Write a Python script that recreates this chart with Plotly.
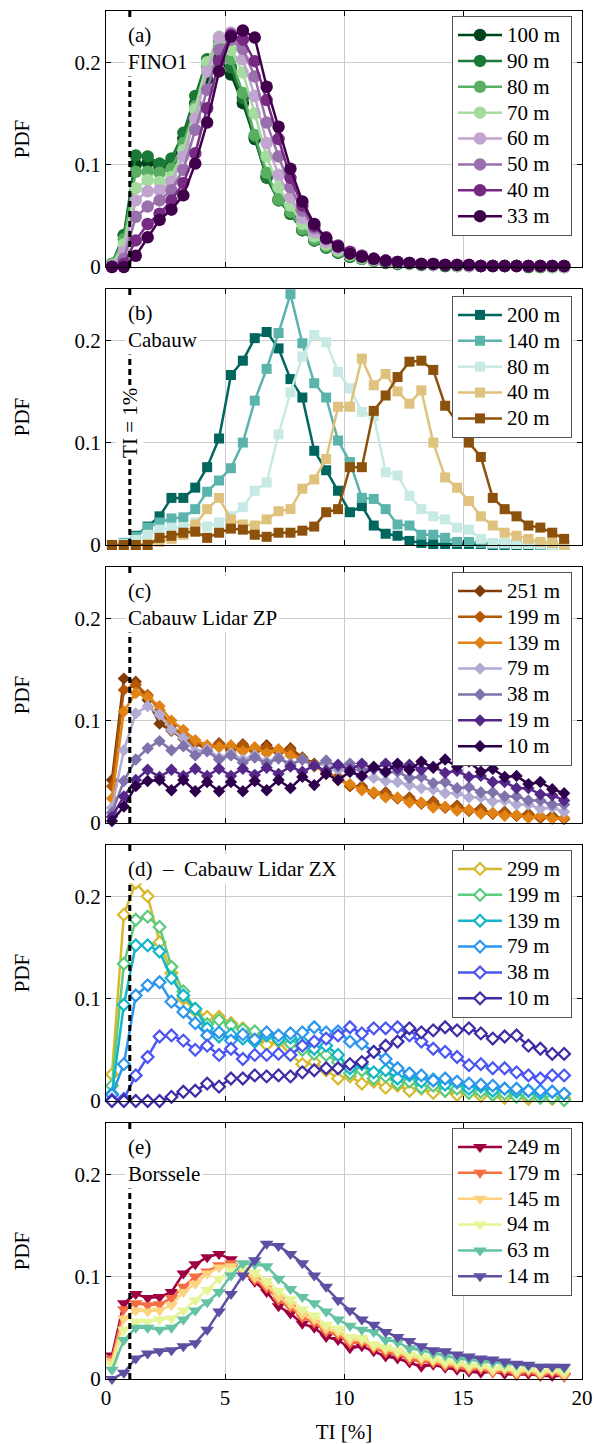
import plotly.graph_objects as go
from plotly.subplots import make_subplots

# TI bin centres [%]
TI_BINS = [0.25, 0.75, 1.25, 1.75, 2.25, 2.75, 3.25, 3.75, 4.25, 4.75,
           5.25, 5.75, 6.25, 6.75, 7.25, 7.75, 8.25, 8.75, 9.25, 9.75,
           10.25, 10.75, 11.25, 11.75, 12.25, 12.75, 13.25, 13.75, 14.25, 14.75,
           15.25, 15.75, 16.25, 16.75, 17.25, 17.75, 18.25, 18.75, 19.25]

# (a) FINO1
FINO1_HEIGHTS = ["100 m", "90 m", "80 m", "70 m", "60 m", "50 m", "40 m", "33 m"]
fino_100 = [0.003, 0.031, 0.100, 0.102, 0.097, 0.100, 0.125, 0.160, 0.183, 0.204, 0.188, 0.160, 0.125, 0.088, 0.066, 0.052, 0.036, 0.026, 0.019, 0.014,
            0.010, 0.008, 0.006, 0.004, 0.003, 0.003, 0.002, 0.002, 0.001, 0.001, 0.001, 0.001, 0.001, 0.001, 0.001, 0.000, 0.000, 0.000, 0.000]
fino_90 = [0.003, 0.031, 0.109, 0.108, 0.101, 0.106, 0.131, 0.167, 0.203, 0.215, 0.195, 0.165, 0.127, 0.087, 0.065, 0.052, 0.036, 0.026, 0.019, 0.014,
           0.010, 0.008, 0.006, 0.004, 0.003, 0.003, 0.002, 0.002, 0.001, 0.001, 0.001, 0.001, 0.001, 0.001, 0.001, 0.000, 0.000, 0.000, 0.000]
fino_80 = [0.003, 0.027, 0.093, 0.093, 0.092, 0.096, 0.121, 0.157, 0.196, 0.221, 0.203, 0.170, 0.129, 0.092, 0.066, 0.054, 0.037, 0.027, 0.020, 0.015,
           0.011, 0.008, 0.006, 0.005, 0.004, 0.003, 0.002, 0.002, 0.002, 0.001, 0.001, 0.001, 0.001, 0.001, 0.001, 0.001, 0.000, 0.000, 0.000]
fino_70 = [0.002, 0.022, 0.077, 0.085, 0.083, 0.088, 0.114, 0.154, 0.200, 0.225, 0.212, 0.190, 0.150, 0.108, 0.078, 0.060, 0.042, 0.030, 0.022, 0.016,
           0.012, 0.009, 0.007, 0.005, 0.004, 0.003, 0.003, 0.002, 0.002, 0.001, 0.001, 0.001, 0.001, 0.001, 0.001, 0.001, 0.001, 0.000, 0.000]
fino_60 = [0.001, 0.015, 0.065, 0.074, 0.075, 0.083, 0.108, 0.145, 0.191, 0.224, 0.229, 0.203, 0.167, 0.121, 0.090, 0.068, 0.048, 0.034, 0.024, 0.018,
           0.013, 0.010, 0.007, 0.006, 0.004, 0.004, 0.003, 0.002, 0.002, 0.002, 0.001, 0.001, 0.001, 0.001, 0.001, 0.001, 0.001, 0.001, 0.000]
fino_50 = [0.001, 0.008, 0.049, 0.059, 0.065, 0.075, 0.095, 0.134, 0.173, 0.212, 0.222, 0.213, 0.186, 0.141, 0.108, 0.078, 0.055, 0.038, 0.027, 0.020,
           0.014, 0.011, 0.008, 0.006, 0.005, 0.004, 0.003, 0.003, 0.002, 0.002, 0.002, 0.001, 0.001, 0.001, 0.001, 0.001, 0.001, 0.001, 0.001]
fino_40 = [0.000, 0.003, 0.026, 0.042, 0.052, 0.065, 0.082, 0.111, 0.155, 0.201, 0.227, 0.222, 0.201, 0.163, 0.125, 0.087, 0.060, 0.040, 0.029, 0.021,
           0.015, 0.011, 0.008, 0.006, 0.005, 0.004, 0.003, 0.003, 0.002, 0.002, 0.002, 0.001, 0.001, 0.001, 0.001, 0.001, 0.001, 0.001, 0.001]
fino_33 = [0.000, 0.000, 0.011, 0.029, 0.046, 0.056, 0.070, 0.101, 0.141, 0.191, 0.225, 0.231, 0.224, 0.176, 0.137, 0.096, 0.064, 0.042, 0.028, 0.020,
           0.013, 0.010, 0.008, 0.006, 0.005, 0.004, 0.003, 0.003, 0.002, 0.002, 0.002, 0.001, 0.001, 0.001, 0.001, 0.001, 0.001, 0.001, 0.001]

# (b) Cabauw
CABAUW_HEIGHTS = ["200 m", "140 m", "80 m", "40 m", "20 m"]
cab_200 = [0.000, 0.002, 0.009, 0.018, 0.028, 0.046, 0.046, 0.056, 0.076, 0.104, 0.166, 0.180, 0.202, 0.208, 0.192, 0.162, 0.144, 0.092, 0.073, 0.053,
           0.032, 0.038, 0.019, 0.011, 0.009, 0.004, 0.002, 0.001, 0.001, 0.001, 0.001, 0.001, 0.000, 0.000, 0.000, 0.000, 0.000, 0.000, 0.000]
cab_140 = [0.000, 0.002, 0.008, 0.017, 0.022, 0.026, 0.027, 0.035, 0.052, 0.063, 0.075, 0.100, 0.141, 0.172, 0.207, 0.245, 0.197, 0.158, 0.144, 0.102,
           0.081, 0.046, 0.045, 0.035, 0.020, 0.019, 0.010, 0.010, 0.007, 0.003, 0.003, 0.002, 0.001, 0.001, 0.001, 0.001, 0.000, 0.000, 0.000]
cab_80 = [0.000, 0.001, 0.005, 0.010, 0.015, 0.017, 0.017, 0.022, 0.018, 0.022, 0.028, 0.037, 0.053, 0.061, 0.108, 0.149, 0.184, 0.205, 0.198, 0.169,
          0.153, 0.130, 0.126, 0.071, 0.068, 0.048, 0.035, 0.028, 0.025, 0.017, 0.015, 0.006, 0.002, 0.002, 0.001, 0.001, 0.001, 0.000, 0.000]
cab_40 = [0.000, 0.000, 0.000, 0.001, 0.003, 0.006, 0.010, 0.020, 0.035, 0.046, 0.025, 0.020, 0.019, 0.025, 0.033, 0.035, 0.055, 0.064, 0.084, 0.135,
          0.135, 0.182, 0.156, 0.167, 0.150, 0.138, 0.151, 0.100, 0.066, 0.056, 0.043, 0.028, 0.019, 0.012, 0.009, 0.006, 0.003, 0.002, 0.000]
cab_20 = [0.000, 0.000, 0.000, 0.000, 0.007, 0.009, 0.012, 0.013, 0.007, 0.012, 0.016, 0.015, 0.010, 0.008, 0.012, 0.012, 0.014, 0.018, 0.032, 0.035,
          0.076, 0.076, 0.131, 0.146, 0.164, 0.179, 0.180, 0.171, 0.136, 0.120, 0.100, 0.086, 0.046, 0.035, 0.028, 0.019, 0.017, 0.012, 0.006]

# (c) Cabauw Lidar ZP
ZP_HEIGHTS = ["251 m", "199 m", "139 m", "79 m", "38 m", "19 m", "10 m"]
zp_251 = [0.042, 0.141, 0.138, 0.120, 0.097, 0.090, 0.082, 0.078, 0.072, 0.078, 0.072, 0.077, 0.071, 0.076, 0.070, 0.073, 0.064, 0.058, 0.048, 0.045,
          0.036, 0.036, 0.029, 0.030, 0.024, 0.025, 0.019, 0.021, 0.015, 0.017, 0.012, 0.014, 0.009, 0.011, 0.007, 0.009, 0.005, 0.007, 0.004]
zp_199 = [0.036, 0.130, 0.135, 0.125, 0.110, 0.095, 0.085, 0.079, 0.074, 0.077, 0.071, 0.076, 0.070, 0.074, 0.069, 0.071, 0.063, 0.057, 0.048, 0.044,
          0.036, 0.035, 0.029, 0.029, 0.024, 0.024, 0.019, 0.020, 0.015, 0.016, 0.012, 0.013, 0.009, 0.010, 0.007, 0.008, 0.005, 0.006, 0.004]
zp_139 = [0.024, 0.109, 0.127, 0.123, 0.114, 0.100, 0.091, 0.081, 0.076, 0.074, 0.076, 0.070, 0.074, 0.068, 0.072, 0.066, 0.062, 0.055, 0.050, 0.042,
          0.038, 0.032, 0.030, 0.025, 0.025, 0.020, 0.020, 0.015, 0.016, 0.012, 0.013, 0.009, 0.010, 0.007, 0.008, 0.005, 0.007, 0.004, 0.005]
zp_79 = [0.015, 0.071, 0.107, 0.114, 0.106, 0.091, 0.083, 0.070, 0.072, 0.064, 0.068, 0.062, 0.066, 0.060, 0.064, 0.058, 0.062, 0.056, 0.058, 0.052,
         0.050, 0.045, 0.044, 0.041, 0.040, 0.037, 0.034, 0.033, 0.029, 0.029, 0.025, 0.025, 0.021, 0.022, 0.018, 0.018, 0.014, 0.015, 0.011]
zp_38 = [0.010, 0.041, 0.062, 0.073, 0.080, 0.071, 0.075, 0.066, 0.070, 0.062, 0.066, 0.059, 0.064, 0.058, 0.063, 0.057, 0.062, 0.056, 0.061, 0.055,
         0.058, 0.052, 0.054, 0.049, 0.050, 0.044, 0.045, 0.039, 0.040, 0.034, 0.035, 0.030, 0.030, 0.026, 0.026, 0.022, 0.022, 0.018, 0.018]
zp_19 = [0.006, 0.026, 0.042, 0.052, 0.045, 0.052, 0.046, 0.053, 0.046, 0.053, 0.046, 0.053, 0.047, 0.054, 0.048, 0.055, 0.050, 0.056, 0.051, 0.057,
         0.052, 0.058, 0.053, 0.058, 0.053, 0.057, 0.052, 0.055, 0.049, 0.051, 0.045, 0.046, 0.040, 0.040, 0.034, 0.034, 0.028, 0.027, 0.022]
zp_10 = [0.002, 0.016, 0.036, 0.041, 0.042, 0.032, 0.042, 0.031, 0.040, 0.031, 0.040, 0.031, 0.041, 0.032, 0.042, 0.034, 0.045, 0.037, 0.048, 0.042,
         0.050, 0.046, 0.055, 0.050, 0.058, 0.052, 0.060, 0.054, 0.062, 0.055, 0.060, 0.050, 0.053, 0.045, 0.046, 0.038, 0.040, 0.033, 0.029]

# (d) Cabauw Lidar ZX
ZX_HEIGHTS = ["299 m", "199 m", "139 m", "79 m", "38 m", "10 m"]
zx_299 = [0.026, 0.182, 0.213, 0.200, 0.155, 0.125, 0.100, 0.088, 0.082, 0.082, 0.076, 0.071, 0.066, 0.055, 0.058, 0.045, 0.036, 0.038, 0.030, 0.022,
          0.024, 0.017, 0.019, 0.013, 0.015, 0.010, 0.012, 0.008, 0.010, 0.006, 0.008, 0.005, 0.006, 0.003, 0.005, 0.002, 0.004, 0.002, 0.003]
zx_199 = [0.015, 0.134, 0.177, 0.180, 0.170, 0.131, 0.107, 0.090, 0.075, 0.079, 0.074, 0.070, 0.068, 0.064, 0.060, 0.056, 0.050, 0.046, 0.045, 0.038,
          0.027, 0.030, 0.022, 0.024, 0.017, 0.019, 0.013, 0.015, 0.010, 0.012, 0.008, 0.009, 0.006, 0.007, 0.004, 0.005, 0.003, 0.003, 0.001]
zx_139 = [0.007, 0.094, 0.152, 0.152, 0.146, 0.120, 0.103, 0.090, 0.071, 0.063, 0.065, 0.061, 0.058, 0.064, 0.060, 0.062, 0.058, 0.051, 0.054, 0.045,
          0.032, 0.036, 0.028, 0.030, 0.022, 0.025, 0.019, 0.021, 0.016, 0.018, 0.012, 0.014, 0.010, 0.012, 0.009, 0.010, 0.007, 0.009, 0.007]
zx_79 = [0.006, 0.036, 0.103, 0.113, 0.116, 0.097, 0.087, 0.076, 0.064, 0.067, 0.059, 0.065, 0.060, 0.067, 0.064, 0.066, 0.067, 0.072, 0.067, 0.068,
         0.058, 0.056, 0.048, 0.041, 0.032, 0.027, 0.025, 0.020, 0.022, 0.019, 0.017, 0.016, 0.015, 0.012, 0.012, 0.010, 0.010, 0.009, 0.007]
zx_38 = [0.001, 0.002, 0.025, 0.043, 0.063, 0.064, 0.059, 0.050, 0.054, 0.045, 0.051, 0.041, 0.045, 0.045, 0.046, 0.045, 0.054, 0.058, 0.061, 0.064,
         0.072, 0.066, 0.071, 0.071, 0.072, 0.064, 0.058, 0.051, 0.048, 0.043, 0.035, 0.036, 0.032, 0.032, 0.028, 0.025, 0.022, 0.025, 0.025]
zx_10 = [0.000, 0.000, 0.000, 0.000, 0.000, 0.004, 0.009, 0.010, 0.017, 0.014, 0.022, 0.022, 0.025, 0.024, 0.025, 0.024, 0.028, 0.030, 0.032, 0.032,
         0.036, 0.038, 0.048, 0.054, 0.058, 0.071, 0.067, 0.069, 0.072, 0.069, 0.071, 0.066, 0.061, 0.063, 0.064, 0.054, 0.051, 0.046, 0.046]

# (e) Borssele
BORSSELE_HEIGHTS = ["249 m", "179 m", "145 m", "94 m", "63 m", "14 m"]
bo_249 = [0.023, 0.074, 0.083, 0.079, 0.080, 0.085, 0.103, 0.112, 0.119, 0.122, 0.117, 0.105, 0.095, 0.085, 0.071, 0.064, 0.054, 0.050, 0.041, 0.038,
          0.030, 0.032, 0.027, 0.022, 0.020, 0.016, 0.012, 0.014, 0.011, 0.009, 0.007, 0.006, 0.007, 0.005, 0.004, 0.005, 0.003, 0.003, 0.003]
bo_179 = [0.020, 0.068, 0.074, 0.072, 0.073, 0.079, 0.090, 0.100, 0.105, 0.111, 0.113, 0.106, 0.097, 0.089, 0.077, 0.070, 0.060, 0.055, 0.046, 0.043,
          0.035, 0.036, 0.030, 0.026, 0.024, 0.019, 0.017, 0.016, 0.013, 0.012, 0.009, 0.010, 0.006, 0.008, 0.004, 0.007, 0.003, 0.006, 0.002]
bo_145 = [0.017, 0.059, 0.067, 0.066, 0.067, 0.072, 0.085, 0.093, 0.103, 0.109, 0.110, 0.106, 0.099, 0.092, 0.080, 0.073, 0.063, 0.058, 0.049, 0.046,
          0.038, 0.038, 0.032, 0.029, 0.026, 0.022, 0.020, 0.018, 0.015, 0.014, 0.011, 0.012, 0.008, 0.010, 0.006, 0.009, 0.005, 0.008, 0.004]
bo_94 = [0.014, 0.048, 0.056, 0.056, 0.058, 0.059, 0.067, 0.077, 0.087, 0.098, 0.106, 0.109, 0.104, 0.096, 0.086, 0.078, 0.068, 0.062, 0.053, 0.049,
         0.041, 0.040, 0.034, 0.031, 0.028, 0.024, 0.022, 0.020, 0.017, 0.016, 0.013, 0.013, 0.010, 0.011, 0.008, 0.010, 0.007, 0.009, 0.007]
bo_63 = [0.009, 0.038, 0.050, 0.050, 0.048, 0.050, 0.058, 0.067, 0.075, 0.085, 0.101, 0.113, 0.112, 0.110, 0.098, 0.088, 0.080, 0.074, 0.066, 0.058,
         0.052, 0.048, 0.046, 0.038, 0.036, 0.030, 0.028, 0.025, 0.023, 0.020, 0.019, 0.017, 0.016, 0.015, 0.014, 0.013, 0.012, 0.012, 0.011]
bo_14 = [0.000, 0.006, 0.020, 0.025, 0.027, 0.028, 0.032, 0.035, 0.048, 0.066, 0.083, 0.101, 0.116, 0.132, 0.130, 0.122, 0.113, 0.101, 0.090, 0.077,
         0.067, 0.058, 0.053, 0.046, 0.041, 0.037, 0.032, 0.028, 0.027, 0.024, 0.022, 0.020, 0.019, 0.017, 0.015, 0.014, 0.012, 0.012, 0.012]

FONT = "Liberation Serif, Times New Roman, Times, serif"

panels = [
    dict(label="(a)<br>FINO1", names=FINO1_HEIGHTS,
         series=[fino_100, fino_90, fino_80, fino_70, fino_60, fino_50, fino_40, fino_33],
         colors=["#00441b", "#1b7837", "#5aae61", "#a6dba0", "#c2a5cf", "#9970ab", "#762a83", "#40004b"],
         symbol="circle", size=12.5, hollow=False),
    dict(label="(b)<br>Cabauw", names=CABAUW_HEIGHTS,
         series=[cab_200, cab_140, cab_80, cab_40, cab_20],
         colors=["#01665e", "#5ab4ac", "#c7eae5", "#dfc27d", "#8c510a"],
         symbol="square", size=10, hollow=False),
    dict(label="(c)<br>Cabauw Lidar ZP", names=ZP_HEIGHTS,
         series=[zp_251, zp_199, zp_139, zp_79, zp_38, zp_19, zp_10],
         colors=["#7f3b08", "#b35806", "#e08214", "#b2abd2", "#8073ac", "#542788", "#2d004b"],
         symbol="diamond", size=9.5, hollow=False),
    dict(label="(d)\u00a0\u00a0\u2013\u00a0\u00a0Cabauw Lidar ZX", names=ZX_HEIGHTS,
         series=[zx_299, zx_199, zx_139, zx_79, zx_38, zx_10],
         colors=["#d6b92c", "#5ccb7c", "#12b6c8", "#2c95ee", "#4a55f2", "#3e2ba6"],
         symbol="diamond", size=9, hollow=True),
    dict(label="(e)<br>Borssele", names=BORSSELE_HEIGHTS,
         series=[bo_249, bo_179, bo_145, bo_94, bo_63, bo_14],
         colors=["#9e0142", "#f46d43", "#fdd380", "#e6f598", "#66c2a5", "#5e4fa2"],
         symbol="triangle-down", size=12, hollow=False),
]

GAP = 22 / 1368
fig = make_subplots(rows=5, cols=1, shared_xaxes=True, vertical_spacing=GAP)

legend_tops = [0.9963, 0.7917, 0.5899, 0.3867, 0.1835]

for i, p in enumerate(panels):
    row = i + 1
    leg = "legend" if row == 1 else f"legend{row}"
    for name, ys, col in zip(p["names"], p["series"], p["colors"]):
        if p["hollow"]:
            marker = dict(symbol=p["symbol"], size=p["size"], color="white",
                          line=dict(color=col, width=2.2))
        else:
            marker = dict(symbol=p["symbol"], size=p["size"], color=col,
                          line=dict(width=0))
        fig.add_trace(go.Scatter(
            x=TI_BINS, y=ys, mode="lines+markers",
            name=f"<span style='font-size:21px'>{name}\u00a0</span>",
            line=dict(color=col, width=2.5), marker=marker,
            cliponaxis=False, legend=leg,
        ), row=row, col=1)

    fig.update_layout({leg: dict(
        x=0.979, xanchor="right", y=legend_tops[i], yanchor="top",
        bgcolor="white", bordercolor="#555555", borderwidth=1,
        font=dict(family=FONT, size=17.6, color="black"),
        tracegroupgap=0, itemwidth=44,
    )})

    xr = "x" if row == 1 else f"x{row}"
    yr = "y" if row == 1 else f"y{row}"
    # TI = 1 % reference line
    fig.add_shape(type="line", xref=xr, yref=f"{yr} domain", x0=1, x1=1, y0=0, y1=1,
                  line=dict(color="black", width=3, dash="6px,4px"), layer="above")
    fig.add_annotation(xref=xr, yref=f"{yr} domain", x=1, y=1, xanchor="left", yanchor="top",
                       xshift=-5, yshift=-9, text=p["label"], showarrow=False, align="left",
                       bgcolor="white", borderpad=2,
                       font=dict(family=FONT, size=21, color="black"))

fig.add_annotation(xref="x2", yref="y2", x=1, y=0.119, text="TI = 1%", textangle=-90,
                   showarrow=False, bgcolor="white", borderpad=1,
                   font=dict(family=FONT, size=21, color="black"))

axis_common = dict(showline=True, linecolor="black", linewidth=1, mirror="ticks",
                   ticks="inside", ticklen=5, tickcolor="black", tickwidth=1,
                   showgrid=True, gridcolor="#cccccc", gridwidth=1, zeroline=False,
                   automargin=False,
                   tickfont=dict(family=FONT, size=21, color="black"))

for row in range(1, 6):
    fig.update_xaxes(range=[0, 20], tickvals=[0, 5, 10, 15, 20], row=row, col=1, **axis_common)
    fig.update_yaxes(range=[0, 0.25], tickvals=[0, 0.1, 0.2], ticktext=["0", "0.1", "0.2"],
                     title=dict(text="PDF", standoff=39, font=dict(family=FONT, size=21, color="black")),
                     row=row, col=1, **axis_common)

fig.update_xaxes(title=dict(text="TI [%]", standoff=20, font=dict(family=FONT, size=21, color="black")),
                 row=5, col=1)

fig.update_layout(
    width=595, height=1444,
    margin=dict(l=106, r=13, t=11, b=65),
    paper_bgcolor="white", plot_bgcolor="white",
    font=dict(family=FONT, size=21, color="black"),
    showlegend=True,
)

fig.write_html("out.html")
